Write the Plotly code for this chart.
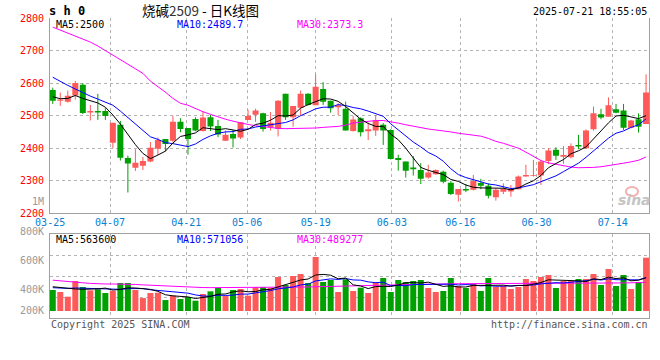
import plotly.graph_objects as go

# ---------------- data ----------------
dates = ["03-25","03-26","03-27","03-28","03-31",
         "04-01","04-02","04-03","04-07","04-08","04-09","04-10","04-11",
         "04-14","04-15","04-16","04-17","04-18","04-21","04-22","04-23","04-24","04-25",
         "04-28","04-29","04-30",
         "05-06","05-07","05-08","05-09","05-12","05-13","05-14","05-15","05-16",
         "05-19","05-20","05-21","05-22","05-23","05-26","05-27","05-28","05-29","05-30",
         "06-03","06-04","06-05","06-06","06-09","06-10","06-11","06-12","06-13",
         "06-16","06-17","06-18","06-19","06-20","06-23","06-24","06-25","06-26","06-27",
         "06-30","07-01","07-02","07-03","07-04","07-07","07-08","07-09","07-10","07-11",
         "07-14","07-15","07-16","07-17","07-18","07-21"]

tick_labels = ["03-25","04-07","04-21","05-06","05-19","06-03","06-16","06-30","07-14"]

open_ = [2579,2546,2543,2562,2595,2510,2514,2514,2417,2472,2370,2340,2346,2359,2398,2428,2423,2481,2462,2490,
         2453,2495,2468,2423,2444,2433,2487,2503,2507,2464,2459,2567,2495,2524,2567,2532,2582,2546,2526,2521,
         2453,2492,2452,2454,2472,2456,2370,2359,2341,2333,2310,2320,2328,2294,2257,2275,2272,2293,2285,2249,
         2266,2267,2274,2313,2315,2316,2361,2395,2374,2372,2410,2400,2458,2504,2497,2520,2516,2463,2489,2474]
high = [2586,2571,2577,2607,2600,2533,2567,2523,2478,2484,2377,2397,2373,2419,2433,2428,2499,2492,2462,2495,
        2514,2502,2487,2454,2456,2480,2518,2521,2509,2511,2548,2567,2530,2577,2569,2627,2603,2546,2538,2543,
        2499,2495,2479,2502,2477,2458,2380,2359,2376,2354,2349,2335,2331,2299,2275,2290,2318,2306,2292,2277,
        2292,2287,2316,2349,2364,2364,2400,2403,2407,2415,2441,2458,2528,2521,2556,2536,2536,2487,2507,2627]
low = [2536,2530,2540,2549,2505,2485,2487,2487,2400,2362,2264,2330,2333,2357,2379,2390,2418,2449,2380,2452,
       2451,2453,2434,2422,2402,2428,2487,2481,2451,2454,2436,2487,2466,2499,2531,2532,2533,2509,2502,2454,
       2451,2436,2425,2438,2410,2365,2331,2310,2316,2290,2306,2318,2292,2256,2236,2265,2270,2274,2246,2239,
       2259,2251,2274,2313,2313,2287,2351,2364,2352,2369,2397,2398,2454,2489,2497,2507,2456,2461,2448,2474]
close = [2546,2550,2561,2600,2508,2514,2510,2499,2478,2371,2353,2355,2361,2401,2425,2413,2481,2459,2428,2454,
         2494,2467,2442,2441,2430,2480,2499,2516,2459,2478,2546,2495,2530,2567,2533,2589,2543,2523,2532,2454,
         2488,2449,2458,2485,2454,2367,2364,2331,2335,2306,2325,2333,2297,2259,2275,2270,2299,2285,2254,2272,
         2275,2274,2313,2318,2318,2359,2393,2377,2379,2407,2405,2454,2507,2494,2532,2509,2463,2485,2466,2571]

ma5 = [2558,2552,2553,2562,2553,2547,2539,2526,2502,2474,2442,2411,2384,2368,2379,2391,2416,2436,2441,2447,
       2463,2460,2457,2460,2455,2452,2458,2473,2477,2486,2500,2499,2502,2523,2534,2543,2552,2551,2544,2528,
       2508,2489,2476,2467,2467,2443,2426,2400,2370,2341,2332,2326,2319,2304,2298,2287,2280,2278,2277,2276,
       2277,2272,2278,2290,2300,2316,2340,2353,2365,2383,2392,2404,2430,2453,2478,2499,2501,2497,2491,2500]
ma10 = [2618,2605,2593,2582,2570,2560,2551,2542,2532,2514,2494,2475,2455,2435,2427,2417,2414,2410,2405,2413,
        2427,2438,2446,2450,2451,2458,2459,2465,2468,2471,2476,2479,2487,2500,2510,2521,2526,2526,2534,2531,
        2525,2521,2514,2505,2498,2475,2457,2438,2419,2404,2387,2376,2360,2337,2319,2310,2303,2298,2290,2287,
        2282,2276,2278,2284,2288,2297,2306,2315,2328,2341,2354,2372,2392,2409,2431,2446,2453,2464,2472,2490]
ma30 = [2772,2763,2752,2745,2735,2726,2714,2700,2687,2671,2657,2645,2630,2606,2590,2572,2553,2538,2532,2521,
        2512,2504,2496,2489,2483,2477,2473,2469,2466,2463,2461,2460,2460,2461,2461,2462,2464,2465,2467,2471,
        2477,2480,2483,2485,2485,2482,2477,2472,2467,2462,2459,2456,2454,2450,2446,2443,2440,2437,2430,2421,
        2415,2408,2400,2388,2375,2362,2355,2350,2346,2342,2340,2340,2341,2343,2346,2349,2354,2358,2363,2373]

# volume in thousands of lots
volume_k = [358,324,244,511,409,352,369,307,341,477,477,358,221,307,312,187,261,204,238,176,
            290,335,392,255,358,375,261,409,409,392,579,443,596,630,477,920,494,528,324,540,
            341,397,307,494,562,324,528,494,511,528,392,324,341,562,426,392,460,341,562,409,
            426,375,409,545,511,579,613,392,511,511,545,545,630,443,715,426,613,375,494,908]
vma5 = [413,400,380,375,369,368,377,390,356,369,394,392,375,368,335,277,258,254,240,213,
        234,249,286,290,326,343,328,332,362,369,410,446,484,528,545,613,623,610,549,561,
        445,426,382,416,420,417,443,480,484,477,491,450,419,429,409,409,436,436,436,433,
        440,423,436,433,453,484,531,528,521,521,514,501,548,535,576,552,565,514,525,564]
vma10 = [397,390,385,392,390,386,382,380,380,369,381,385,382,362,352,336,325,315,304,274,
         255,253,270,265,270,288,288,309,326,348,377,387,408,445,457,512,535,547,538,553,
         529,525,496,482,491,431,435,431,450,449,454,446,450,457,443,450,443,428,433,421,
         424,429,436,435,443,462,477,482,477,487,499,516,538,528,548,533,533,531,530,571]
vma30 = [525,511,500,490,480,470,462,460,460,460,458,452,445,438,432,426,420,412,406,402,
         399,398,398,398,398,398,398,398,398,398,398,400,402,405,409,413,417,420,423,426,
         429,431,434,437,440,443,446,449,453,457,460,462,463,464,465,466,466,466,466,466,
         466,466,466,466,466,466,466,466,466,466,466,468,471,474,476,477,478,480,484,489]

price_ticks = [2200, 2300, 2400, 2500, 2600, 2700, 2800]

# ---------------- styling ----------------
W, H = 660, 360
RED = "#ff5a5a"
GREEN = "#00a000"
FRAME = "#a0a0a0"
GRID = "#b4b4b4"
MONO = "DejaVu Sans Mono"
XL, XR = 50, 649           # plot left/right pixels
P_TOP, P_BOT = 18, 213.3   # price panel
V_TOP, V_BOT = 234, 318    # volume panel

def px_x(p):
    return p / W

def px_y(p):
    return 1 - p / H

n = len(close)
xs = list(range(n))
up = [close[i] >= open_[i] for i in range(n)]

fig = go.Figure()

# wicks
for flag, col in ((True, RED), (False, GREEN)):
    wx, wy = [], []
    for i in range(n):
        if up[i] == flag:
            wx += [i, i, None]
            wy += [low[i], high[i], None]
    fig.add_trace(go.Scatter(x=wx, y=wy, mode="lines", line=dict(color=col, width=1),
                             xaxis="x", yaxis="y", hoverinfo="skip"))

# bodies
for flag, col in ((True, RED), (False, GREEN)):
    bx, bh, bb = [], [], []
    for i in range(n):
        if up[i] == flag:
            lo_ = min(open_[i], close[i])
            hi_ = max(open_[i], close[i])
            bx.append(i)
            bb.append(lo_)
            bh.append(max(hi_ - lo_, 3))
    fig.add_trace(go.Bar(x=bx, y=bh, base=bb, width=0.8, marker=dict(color=col, line=dict(width=0)),
                         xaxis="x", yaxis="y", hoverinfo="skip"))

# price MAs
for arr, col in ((ma30, "#ff00ff"), (ma10, "#0000ff"), (ma5, "#000000")):
    fig.add_trace(go.Scatter(x=xs, y=arr, mode="lines", line=dict(color=col, width=1),
                             xaxis="x", yaxis="y", hoverinfo="skip"))

# volume bars
for flag, col in ((True, RED), (False, GREEN)):
    vx = [i for i in range(n) if up[i] == flag]
    vy = [volume_k[i] for i in vx]
    fig.add_trace(go.Bar(x=vx, y=vy, width=0.8, marker=dict(color=col, line=dict(width=0)),
                         xaxis="x2", yaxis="y2", hoverinfo="skip"))

for arr, col in ((vma30, "#ff00ff"), (vma10, "#0000ff"), (vma5, "#000000")):
    fig.add_trace(go.Scatter(x=xs, y=arr, mode="lines", line=dict(color=col, width=1),
                             xaxis="x2", yaxis="y2", hoverinfo="skip"))

x_range = [-0.37, 79.39]
vol_range = [-119, 1311]

# vertical grid positions (sina spaces its date grid slightly wider than candles)
tick_idx = [dates.index(t) for t in tick_labels]
grid_x = [max(-0.49 + 1.0142 * i, x_range[0] + 0.02) for i in tick_idx]

# volume grid lines split the panel in four equal parts
vol_grid = [vol_range[0] + (vol_range[1] - vol_range[0]) * k / 4 for k in (1, 2, 3)]

dom_x = [px_x(XL), px_x(XR)]

common = dict(automargin=False, ticks="", zeroline=False, gridcolor=GRID, griddash="dot",
              gridwidth=1, showgrid=True, showline=True, linecolor=FRAME, linewidth=1)

fig.update_layout(
    template="none",
    width=W, height=H,
    margin=dict(l=0, r=0, t=0, b=0, pad=0, autoexpand=False),
    paper_bgcolor="white", plot_bgcolor="white",
    showlegend=False, barmode="overlay", hovermode=False,
    xaxis=dict(domain=dom_x, range=x_range, anchor="y",
               tickmode="array", tickvals=grid_x, ticktext=tick_labels, mirror=False,
               tickfont=dict(family=MONO, size=10, color="#0a80d0"), **common),
    yaxis=dict(domain=[px_y(P_BOT), px_y(P_TOP)], range=[2200, 2800], anchor="x",
               tickmode="array", tickvals=price_ticks,
               ticktext=[str(t) for t in price_ticks], mirror=True,
               ticklabelstandoff=3,
               tickfont=dict(family=MONO, size=10, color="#ff0000"), **common),
    xaxis2=dict(domain=dom_x, range=x_range, anchor="y2",
                tickmode="array", tickvals=grid_x, showticklabels=False, mirror=True,
                **common),
    yaxis2=dict(domain=[px_y(V_BOT), px_y(V_TOP)], range=vol_range, anchor="x2",
                tickmode="array", tickvals=vol_grid, showticklabels=False, mirror=True,
                **common),
)

anns = []

def ann(text, x, y, color="#000", size=10, xanchor="left", family=MONO):
    anns.append(dict(text=text, x=px_x(x), y=px_y(y), xref="paper", yref="paper",
                     xanchor=xanchor, yanchor="middle", showarrow=False,
                     font=dict(family=family, size=size, color=color)))

ann("<b>s h 0</b>", 47, 10.5, "#000", 12)
ann("烧碱<span style='color:#333'>2509</span> - 日K线图", 140, 10, "#000", 13.5,
    family="Noto Sans CJK SC")
ann("2025-07-21 18:55:05", 649, 12, "#000", 10, xanchor="right")

ann("MA5:%g" % ma5[-1], 54, 24.5, "#000000")
ann("MA10:%.1f" % 2489.7, 175, 24.5, "#0000ff")
ann("MA30:%.1f" % 2373.3, 295, 24.5, "#ff00ff")

ann("MA5:563600", 54, 239, "#000000")
ann("MA10:571056", 175, 239, "#0000ff")
ann("MA30:489277", 295, 239, "#ff00ff")

ann("1M", 46, 201, "#999999", 10, xanchor="right")
for lab, yy in (("800K", 231.5), ("600K", 260.7), ("400K", 289.5), ("200K", 310)):
    ann(lab, 46, yy, "#999999", 10, xanchor="right")

ann("Copyright 2025 SINA.COM", 49, 324, "#555555", 10)
ann("http://finance.sina.com.cn", 650, 324, "#555555", 10, xanchor="right")

ann("<b><i>sina</i></b>", 634, 200, "#c4c4c4", 14, xanchor="center", family="DejaVu Sans")

fig.update_layout(annotations=anns)

fig.add_shape(type="circle", xref="paper", yref="paper",
              x0=px_x(626), x1=px_x(638), y0=px_y(196), y1=px_y(187),
              line=dict(color="#f2b0b0", width=2))

fig.write_html("out.html",
               config={"displayModeBar": False, "staticPlot": True},
               post_script="document.body.style.margin='0px';document.body.style.overflow='hidden';")
